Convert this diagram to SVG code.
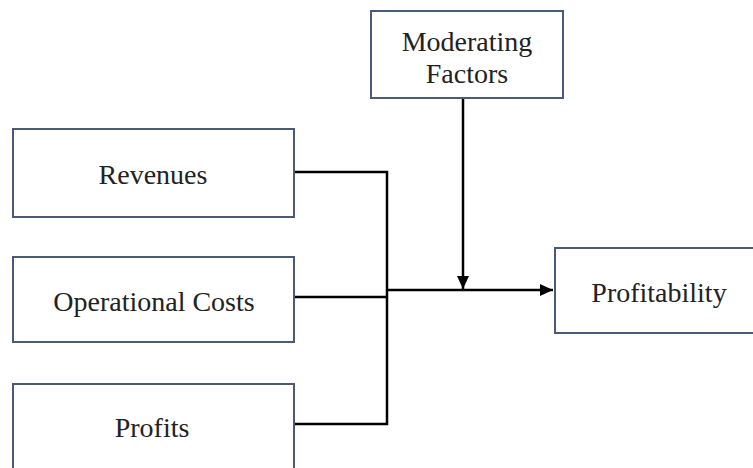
<svg xmlns="http://www.w3.org/2000/svg" width="753" height="468" viewBox="0 0 753 468">
<style>
.box{fill:#fff;stroke:#4a5a78;stroke-width:2}
.lbl{font-family:'Liberation Serif','Times New Roman',serif;font-size:28px;fill:#222;text-anchor:middle}
.con{fill:none;stroke:#000;stroke-width:2.5}
</style>
<defs>
<marker id="arr" markerWidth="14" markerHeight="14" refX="13" refY="6" orient="auto" markerUnits="userSpaceOnUse">
<path d="M0,0 L13,6 L0,12 Z" fill="#000"/>
</marker>
</defs>
<rect width="753" height="468" fill="#fff"/>
<g id="connectors">
<polyline class="con" points="294,172 387,172 387,424 294,424"/>
<line class="con" x1="294" y1="297" x2="387" y2="297"/>
<line class="con" x1="387" y1="290" x2="553" y2="290" marker-end="url(#arr)"/>
<line class="con" x1="463" y1="98" x2="463" y2="289" marker-end="url(#arr)"/>
</g>
<g id="moderating">
<rect class="box" x="371" y="11" width="192" height="87"/>
<text class="lbl" x="467" y="51">Moderating</text>
<text class="lbl" x="467" y="83">Factors</text>
</g>
<g id="revenues">
<rect class="box" x="13" y="129" width="281" height="88"/>
<text class="lbl" x="153" y="184">Revenues</text>
</g>
<g id="operational-costs">
<rect class="box" x="13" y="257" width="281" height="85"/>
<text class="lbl" x="154" y="311">Operational Costs</text>
</g>
<g id="profits">
<rect class="box" x="13" y="384" width="281" height="100"/>
<text class="lbl" x="152" y="437">Profits</text>
</g>
<g id="profitability">
<rect class="box" x="555" y="248" width="210" height="85"/>
<text class="lbl" x="659" y="302">Profitability</text>
</g>
</svg>
